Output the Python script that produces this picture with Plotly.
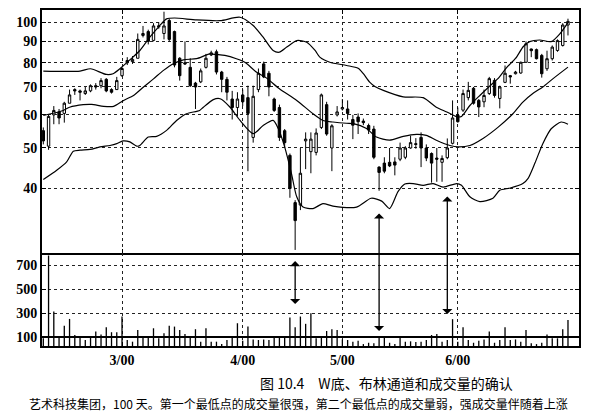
import plotly.graph_objects as go
from plotly.subplots import make_subplots

# ---------------- data ----------------
day = list(range(101))
open_ = [55, 50.5, 60, 61, 60.5, 64, 69, 68.5, 67.5, 68.5, 70.5, 70.5, 73, 69, 69,
         74.5, 80, 80.5, 82, 93, 95, 90.5, 97.5, 94, 101, 95, 82, 80, 78, 71.5,
         72, 78, 83.5, 85, 76, 73, 65.5, 62.5, 67, 66, 53, 69, 79.5, 75.5, 65.5,
         62.5, 55, 48, 37, 36.5, 52, 49, 48.8, 56, 63.5, 50, 60, 62, 62, 58.5,
         59.3, 58, 56.6, 55.5, 45, 46, 46.2, 46.3, 47, 47.5, 50, 51.2, 53, 50, 48.5,
         47.3, 46.2, 47.4, 51.3, 60, 61.6, 66, 69.5, 65, 64.5, 67.5, 72.6, 65.7, 71.8, 74.5,
         75.3, 75.6, 80.2, 86.3, 86, 83.3, 77.4, 81.8, 85.6, 88, 98.5]
high = [56, 60, 63, 62, 64.5, 69, 69.5, 69, 70, 71, 71.5, 73.5, 73.5, 69.5, 74,
        78, 82.5, 83, 94, 98, 96, 99.5, 100, 106, 102, 95.5, 82.5, 90, 82, 72,
        77.5, 84, 85.5, 86, 76.5, 74, 68.5, 68, 69, 70.5, 70.5, 77.5, 80.5, 76.5, 66,
        63.5, 55.5, 48.5, 37.5, 50, 54.5, 54.5, 55.7, 67.5, 64.5, 57, 63, 65.5, 65, 60,
        60.5, 58.8, 57.2, 56.5, 45.2, 47.5, 50, 47.5, 51.5, 50.5, 53.5, 52.8, 54.5, 51, 48.8,
        50, 48, 52.7, 65, 62.5, 69, 72, 70, 65.5, 69, 74, 73.5, 70.5, 78.8, 74.8,
        76.5, 80.5, 90, 86.5, 86.5, 84, 85.5, 88, 91, 99.5, 102]
low = [51, 49.5, 57, 57, 57.5, 64, 67, 65, 67, 68, 69, 69.5, 68, 67.5, 69,
       74, 79, 79.5, 82, 92, 88.5, 90, 96.5, 91, 90, 78, 72.5, 79, 70, 62,
       71.5, 77.5, 83, 75, 68, 65, 58.5, 59.5, 63, 44, 51.5, 68, 73.5, 66.5, 61,
       52, 50, 38, 28.5, 35.5, 44.5, 43.5, 48, 55.5, 53.5, 44, 59.5, 61.5, 58.5, 52.5,
       54, 56.7, 54, 47, 39.5, 43.5, 45, 43, 46.5, 47, 49.8, 49.8, 45, 46.5, 41.3,
       41.5, 41.5, 47, 51, 57.5, 61, 65, 63.5, 59.3, 62.6, 67, 66, 62.2, 71.5, 71.3,
       75, 75.3, 80, 82.5, 81.5, 73.7, 76.5, 81, 85, 87.5, 93]
close = [52, 59.5, 61.5, 59, 64, 67, 68.5, 68, 68.5, 70.5, 70, 72.5, 68.5, 68, 72.5,
         77.5, 81, 81.5, 91, 94, 90, 98, 98, 98, 91, 79, 74.5, 79.5, 70.5, 70,
         76.5, 82, 84.5, 76, 73, 68, 62.5, 65.5, 64.5, 60.5, 66.5, 75.5, 74, 70, 61.5,
         53, 51.5, 40, 33.5, 43.5, 52.5, 52.5, 54.3, 67, 54, 56.5, 61, 62.5, 60.5, 56.7,
         57.8, 57.5, 55.2, 47.5, 43.7, 44, 45.3, 45.5, 50, 50, 51.5, 51, 50, 47.3, 46,
         47, 47.2, 50, 59, 57.8, 67.5, 68.7, 64, 62.7, 66.8, 73.3, 66.8, 70, 75.5, 74,
         76, 80.2, 88.8, 85.5, 81.8, 75.3, 81.8, 87.2, 90.4, 98.5, 100.5]
volume = [90, 780, 313, 97, 193, 251, 117, 108, 75, 97, 145, 120, 181, 140, 140,
          271, 75, 61, 159, 97, 97, 173, 89, 131, 193, 187, 159, 125, 97, 165,
          61, 173, 61, 61, 41, 75, 97, 215, 69, 187, 80, 75, 80, 75, 108,
          97, 103, 263, 181, 271, 210, 299, 89, 97, 150, 165, 159, 80, 75, 61,
          69, 41, 52, 47, 97, 92, 52, 41, 97, 61, 64, 58, 61, 75, 117,
          125, 61, 75, 249, 61, 181, 75, 52, 69, 80, 145, 52, 75, 181, 75,
          80, 61, 159, 47, 41, 52, 120, 89, 89, 165, 243]

upper_x = [0, 7, 9, 12, 13.3, 14.6, 16.5, 18.4, 20.3, 22.2, 23.5, 25, 29.2, 33.7, 37.5,
           40, 41.9, 43.8, 45, 46.4, 48.3, 50.2, 51.8, 52.7, 54.6, 57.8, 60, 61, 62.2,
           63.2, 64.8, 68.6, 72.4, 74.9, 76.9, 78.8, 79.7, 81.3, 83.2, 85, 86.7, 88.3,
           90, 91.5, 92.7, 94.6, 96.8, 98.5, 100]
upper_y = [76.4, 76.4, 77.4, 75.0, 75.3, 77.4, 81.3, 85.6, 92.1, 98.2, 101.9, 102.4, 101.3, 100.9, 102.8,
           98.2, 92.1, 85.6, 84.8, 87.2, 90.4, 89.6, 85.6, 82.5, 80.2, 78.8, 77.6, 75.3, 71.9,
           70.2, 68.7, 66.3, 66.0, 62.6, 61.0, 59.4, 59.5, 63.2, 66.8, 70.2, 73.4, 77.9,
           81.9, 87.5, 89.9, 90.7, 89.9, 94.0, 99.8]
middle_x = [0, 3.8, 5, 7.6, 9.2, 11.5, 13.4, 15.3, 17.2, 19.1, 21, 22.9, 24.8, 26.7, 29.2,
            31.7, 33, 34.6, 36.8, 38.5, 40.6, 42.5, 45, 48.3, 51.4, 53.3, 55.2, 57.8, 59.1,
            61.6, 63.5, 66, 68.6, 71.1, 73, 74.9, 77.5, 79.1, 81.3, 83.8, 86.7, 89.5, 91.4,
            93.3, 95.2, 97.1, 100]
middle_y = [59.8, 61.5, 62.6, 63.5, 63.6, 62.9, 62.9, 65.0, 66.8, 70.0, 73.2, 76.7, 79.6, 81.3, 81.8,
            84.0, 83.7, 83.3, 81.8, 80.1, 76.0, 73.6, 69.3, 65.0, 60.4, 58.2, 57.7, 57.3, 57.2,
            55.7, 53.1, 52.2, 53.3, 53.9, 53.6, 52.2, 50.7, 50.3, 50.7, 52.7, 56.1, 60.4, 64.4,
            67.5, 70.0, 73.2, 78.1]
lower_x = [0, 2.55, 4.45, 5.72, 7, 8.9, 10.8, 12.7, 14, 15.2, 16.5, 17.8, 18.4, 20, 21.6,
           23.5, 25.4, 27.3, 29.8, 30.5, 32.4, 33.7, 35.6, 37.5, 40, 41.9, 43.8, 44.8, 46,
           47.3, 48.3, 49.5, 51.4, 53.3, 55.2, 59.7, 62.5, 64.5, 66, 67.6, 68.9, 70.5, 72.4,
           74.3, 76.2, 78.8, 79.7, 81.3, 83.2, 85.7, 87, 89, 91.4, 92.4, 93.7, 95.2, 96.8,
           98.7, 100]
lower_y = [42.0, 44.2, 46.3, 49.1, 49.4, 49.6, 50.3, 50.7, 51.2, 52.0, 51.7, 50.5, 50.7, 53.1, 53.3,
           55.1, 58.2, 60.4, 61.5, 62.6, 65.3, 65.6, 62.6, 58.2, 54.1, 56.6, 58.2, 55.6, 50.3,
           43.4, 38.2, 36.1, 35.8, 36.8, 36.3, 36.1, 37.9, 37.3, 35.8, 39.3, 41.0, 41.1, 40.7,
           41.1, 40.3, 41.1, 40.7, 38.2, 37.2, 37.9, 39.6, 40.1, 41.1, 42.3, 46.0, 51.2, 55.6,
           57.7, 57.0]

price_ticks = [40, 50, 60, 70, 80, 90, 100]
price_labels = ["40", "50", "60", "70", "80", "90", "100"]
vol_ticks = [100, 300, 500, 700]
vol_labels = ["100", "300", "500", "700"]
date_ticks = [15, 38, 57, 79]
date_labels = ["3/00", "4/00", "5/00", "6/00"]

arrow_day = [48, 64, 77]
arrow_low_vol = [375, 150, 292]
arrow_high_vol = [746, None, None]
arrow_up_px = [None, -119, -119]

title_1 = "图 10.4　W底、布林通道和成交量的确认"
title_2 = "艺术科技集团，100 天。第一个最低点的成交量很强，第二个最低点的成交量弱，强成交量伴随着上涨"

# ---------------- figure ----------------
fig = make_subplots(rows=2, cols=1, shared_xaxes=True, vertical_spacing=0,
                    row_heights=[0.7236, 0.2764])

fig.add_trace(go.Candlestick(
    x=day, open=open_, high=high, low=low, close=close,
    increasing=dict(line=dict(color="black", width=1), fillcolor="white"),
    decreasing=dict(line=dict(color="black", width=1), fillcolor="black"),
    whiskerwidth=0, showlegend=False, hoverinfo="skip"), row=1, col=1)

for bx, by in [(upper_x, upper_y), (middle_x, middle_y), (lower_x, lower_y)]:
    fig.add_trace(go.Scatter(x=bx, y=by, mode="lines",
                             line=dict(color="black", width=1.2, shape="spline", smoothing=0.7),
                             showlegend=False, hoverinfo="skip"), row=1, col=1)

fig.add_trace(go.Bar(x=day, y=volume, width=0.25, marker=dict(color="black", line=dict(width=0)),
                     showlegend=False, hoverinfo="skip"), row=2, col=1)

tick_font = dict(family="Liberation Serif", size=14, color="black", weight="bold")
axis_common = dict(showline=True, linecolor="black", linewidth=2, mirror="ticks",
                   ticks="inside", ticklen=4, tickwidth=1, tickcolor="black",
                   showgrid=True, gridcolor="#222", griddash="dot", gridwidth=1,
                   zeroline=False, tickfont=tick_font, automargin=False)

fig.update_xaxes(**axis_common, range=[-0.25, 102.1], tickmode="array",
                 tickvals=date_ticks, ticktext=date_labels, rangeslider_visible=False)
fig.update_xaxes(showticklabels=False, row=1, col=1)
fig.update_xaxes(showticklabels=True, mirror=False, row=2, col=1)

fig.update_yaxes(**axis_common, row=1, col=1)
fig.update_yaxes(type="log", range=[1.4472, 2.0294], tickmode="array",
                 tickvals=price_ticks, ticktext=price_labels, row=1, col=1)
fig.update_yaxes(**axis_common, row=2, col=1)
fig.update_yaxes(range=[25, 800], tickmode="array", tickvals=vol_ticks,
                 ticktext=vol_labels, row=2, col=1)

# heavy base line at 100 in the volume panel
fig.add_shape(type="line", xref="x2 domain", yref="y2", x0=0, x1=1,
              y0=vol_ticks[0], y1=vol_ticks[0], line=dict(color="black", width=2))

anns = []
for d, lv, hv, up in zip(arrow_day, arrow_low_vol, arrow_high_vol, arrow_up_px):
    a = dict(x=d, y=lv, xref="x2", yref="y2", showarrow=True, arrowside="end+start",
             arrowhead=1, startarrowhead=1, arrowsize=1.3, startarrowsize=1.3,
             arrowwidth=1.3, arrowcolor="black", text="", standoff=0, startstandoff=0)
    if hv is not None:
        a.update(axref="x2", ayref="y2", ax=d, ay=hv)
    else:
        a.update(axref="pixel", ayref="pixel", ax=0, ay=up)
    anns.append(a)

anns.append(dict(text=title_1, xref="paper", yref="paper", x=0.402, y=-0.110,
                 xanchor="left", yanchor="middle", showarrow=False,
                 font=dict(family="Noto Sans CJK SC", size=14, color="black")))
anns.append(dict(text=title_2, xref="paper", yref="paper", x=0.4777, y=-0.1726,
                 xanchor="center", yanchor="middle", showarrow=False,
                 font=dict(family="Noto Sans CJK SC", size=12, color="black")))

fig.update_layout(width=597, height=415, margin=dict(l=42, r=18, t=10, b=69, autoexpand=False),
                  paper_bgcolor="white", plot_bgcolor="white", boxgap=0.35,
                  annotations=anns, hovermode=False, showlegend=False)
fig.update_yaxes(domain=[0.2764, 1], row=1, col=1)
fig.update_yaxes(domain=[0, 0.2764], row=2, col=1)

fig.write_html("out.html", config={"displayModeBar": False, "staticPlot": True},
               post_script="document.body.style.margin='0';document.body.style.overflow='hidden';")
